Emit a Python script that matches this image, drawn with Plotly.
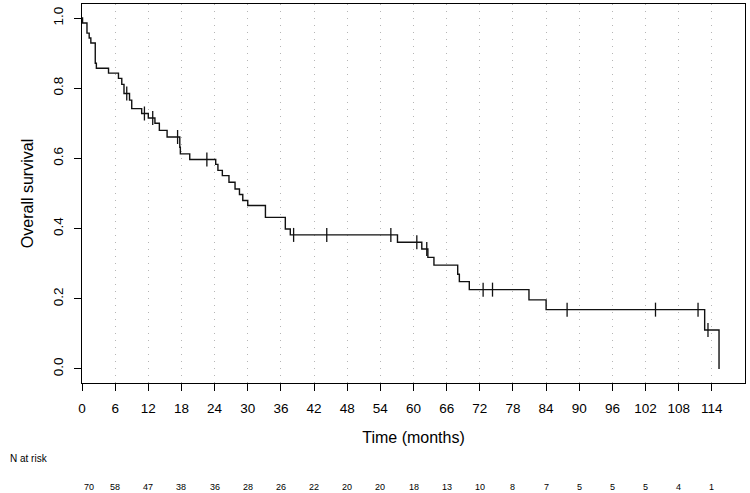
import plotly.graph_objects as go

# Kaplan-Meier step curve (time of step, survival after step)
step_times = [0, 0.1, 0.9, 1.3, 1.6, 2.4, 2.6, 4.8, 6.6, 7.2, 7.6, 8.6, 9.0, 10.8, 12.0,
              13.2, 14.0, 15.4, 17.7, 17.8, 19.5, 24.2, 24.6, 25.4, 26.6, 27.7, 28.5,
              29.1, 30.0, 33.2, 36.8, 37.7, 57.1, 61.5, 62.6, 63.7, 68.0, 68.3, 70.1,
              80.9, 84.0, 112.7, 115.3]
step_surv = [1.0, 0.986, 0.957, 0.943, 0.929, 0.871, 0.857, 0.843, 0.828, 0.811, 0.785,
             0.766, 0.742, 0.728, 0.715, 0.700, 0.680, 0.661, 0.632, 0.613, 0.597, 0.583,
             0.566, 0.551, 0.532, 0.513, 0.497, 0.480, 0.466, 0.432, 0.399, 0.382, 0.361,
             0.342, 0.318, 0.296, 0.270, 0.249, 0.226, 0.197, 0.169, 0.111, 0.0]

# Censoring marks
censor_times = [8.1, 11.3, 12.8, 17.3, 22.6, 38.3, 44.3, 55.9, 60.6, 62.4, 72.6, 74.3,
                87.8, 103.8, 111.5, 113.3]
censor_surv = [0.785, 0.728, 0.715, 0.661, 0.597, 0.382, 0.382, 0.382, 0.361, 0.342,
               0.226, 0.226, 0.169, 0.169, 0.169, 0.111]

# Axis ticks and numbers at risk
x_ticks = list(range(0, 115, 6))
y_ticks = [0.0, 0.2, 0.4, 0.6, 0.8, 1.0]
y_tick_labels = ["0.0", "0.2", "0.4", "0.6", "0.8", "1.0"]
at_risk = [70, 58, 47, 38, 36, 28, 26, 22, 20, 20, 18, 13, 10, 8, 7, 5, 5, 5, 4, 1]

FONT = "Liberation Sans, Arial, Helvetica, sans-serif"

fig = go.Figure()
fig.add_trace(go.Scatter(
    x=step_times, y=step_surv, mode="lines",
    line=dict(color="#111111", width=1.4, shape="hv"),
    hoverinfo="skip", showlegend=False))
fig.add_trace(go.Scatter(
    x=censor_times, y=censor_surv, mode="markers",
    marker=dict(symbol="line-ns", size=10, line=dict(color="#111111", width=1.3)),
    hoverinfo="skip", showlegend=False))

annotations = []
for i, (t, n) in enumerate(zip(x_ticks, at_risk)):
    annotations.append(dict(
        x=t, y=-0.2744, xref="x", yref="paper", text=str(n), showarrow=False,
        xanchor="center", yanchor="middle", xshift=7 if i == 0 else 0,
        font=dict(family=FONT, size=9, color="#000000")))
annotations.append(dict(
    x=-0.1116, y=-0.2005, xref="paper", yref="paper", text="N at risk",
    showarrow=False, xanchor="left", yanchor="middle",
    font=dict(family=FONT, size=10, color="#000000")))

fig.update_layout(
    width=750, height=493,
    margin=dict(l=82, r=5, t=4, b=110, autoexpand=False),
    paper_bgcolor="white", plot_bgcolor="white",
    font=dict(family=FONT, size=13, color="#000000"),
    annotations=annotations,
    xaxis=dict(
        range=[0, 120], tickmode="array", tickvals=x_ticks,
        ticktext=[str(t) for t in x_ticks], automargin=False,
        ticks="outside", ticklen=7, tickwidth=1, tickcolor="#000000",
        showline=True, linecolor="#000000", linewidth=1, mirror=True,
        showgrid=True, gridcolor="#b5b5b5", gridwidth=1, griddash="1px,6px",
        zeroline=False, tickfont=dict(size=13.5), ticklabelstandoff=6,
        title=dict(text="Time (months)", font=dict(size=16), standoff=16)),
    yaxis=dict(
        range=[-0.04, 1.04], tickmode="array", tickvals=y_ticks, ticktext=y_tick_labels,
        ticks="outside", ticklen=7, tickwidth=1, tickcolor="#000000", tickangle=-90,
        showline=True, linecolor="#000000", linewidth=1, mirror=True, automargin=False,
        showgrid=False, zeroline=False, tickfont=dict(size=13.5), ticklabelstandoff=6,
        title=dict(text="Overall survival", font=dict(size=16), standoff=12)),
)

fig.write_html("out.html", config={"displayModeBar": False},
               post_script="document.body.style.margin='0px';")
